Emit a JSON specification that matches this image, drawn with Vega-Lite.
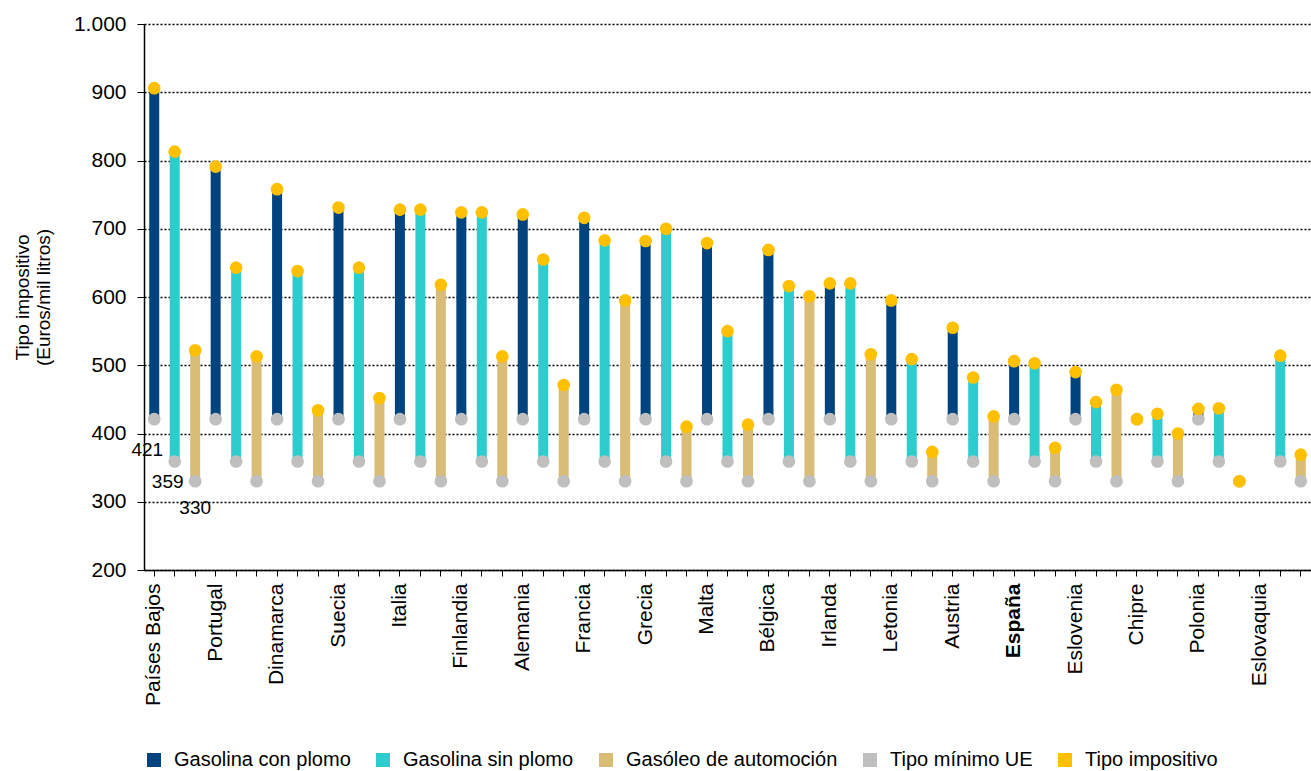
{
  "$schema": "https://vega.github.io/schema/vega-lite/v6.json",
  "width": 1311,
  "height": 771,
  "autosize": {"type": "fit", "contains": "padding"},
  "padding": {"left": 13, "top": 13, "right": 0, "bottom": 1},
  "background": "white",
  "config": {
    "font": "Liberation Sans",
    "view": {"stroke": null},
    "axis": {"labelColor": "#000", "tickColor": "#000", "domainColor": "#000", "titleColor": "#000", "labelFont": "Liberation Sans", "titleFont": "Liberation Sans"},
    "legend": {"labelFont": "Liberation Sans"}
  },
  "data": {
    "values": [
      {"id": "Países Bajos|L", "fuel": "Gasolina con plomo", "Tipo mínimo UE": 421, "Tipo impositivo": 906},
      {"id": "Países Bajos|U", "fuel": "Gasolina sin plomo", "Tipo mínimo UE": 359, "Tipo impositivo": 813},
      {"id": "Países Bajos|D", "fuel": "Gasóleo de automoción", "Tipo mínimo UE": 330, "Tipo impositivo": 522},
      {"id": "Portugal|L", "fuel": "Gasolina con plomo", "Tipo mínimo UE": 421, "Tipo impositivo": 791},
      {"id": "Portugal|U", "fuel": "Gasolina sin plomo", "Tipo mínimo UE": 359, "Tipo impositivo": 643},
      {"id": "Portugal|D", "fuel": "Gasóleo de automoción", "Tipo mínimo UE": 330, "Tipo impositivo": 513},
      {"id": "Dinamarca|L", "fuel": "Gasolina con plomo", "Tipo mínimo UE": 421, "Tipo impositivo": 758},
      {"id": "Dinamarca|U", "fuel": "Gasolina sin plomo", "Tipo mínimo UE": 359, "Tipo impositivo": 638},
      {"id": "Dinamarca|D", "fuel": "Gasóleo de automoción", "Tipo mínimo UE": 330, "Tipo impositivo": 434},
      {"id": "Suecia|L", "fuel": "Gasolina con plomo", "Tipo mínimo UE": 421, "Tipo impositivo": 731},
      {"id": "Suecia|U", "fuel": "Gasolina sin plomo", "Tipo mínimo UE": 359, "Tipo impositivo": 643},
      {"id": "Suecia|D", "fuel": "Gasóleo de automoción", "Tipo mínimo UE": 330, "Tipo impositivo": 452},
      {"id": "Italia|L", "fuel": "Gasolina con plomo", "Tipo mínimo UE": 421, "Tipo impositivo": 728},
      {"id": "Italia|U", "fuel": "Gasolina sin plomo", "Tipo mínimo UE": 359, "Tipo impositivo": 728},
      {"id": "Italia|D", "fuel": "Gasóleo de automoción", "Tipo mínimo UE": 330, "Tipo impositivo": 618},
      {"id": "Finlandia|L", "fuel": "Gasolina con plomo", "Tipo mínimo UE": 421, "Tipo impositivo": 724},
      {"id": "Finlandia|U", "fuel": "Gasolina sin plomo", "Tipo mínimo UE": 359, "Tipo impositivo": 724},
      {"id": "Finlandia|D", "fuel": "Gasóleo de automoción", "Tipo mínimo UE": 330, "Tipo impositivo": 513},
      {"id": "Alemania|L", "fuel": "Gasolina con plomo", "Tipo mínimo UE": 421, "Tipo impositivo": 721},
      {"id": "Alemania|U", "fuel": "Gasolina sin plomo", "Tipo mínimo UE": 359, "Tipo impositivo": 655},
      {"id": "Alemania|D", "fuel": "Gasóleo de automoción", "Tipo mínimo UE": 330, "Tipo impositivo": 471},
      {"id": "Francia|L", "fuel": "Gasolina con plomo", "Tipo mínimo UE": 421, "Tipo impositivo": 716},
      {"id": "Francia|U", "fuel": "Gasolina sin plomo", "Tipo mínimo UE": 359, "Tipo impositivo": 683},
      {"id": "Francia|D", "fuel": "Gasóleo de automoción", "Tipo mínimo UE": 330, "Tipo impositivo": 595},
      {"id": "Grecia|L", "fuel": "Gasolina con plomo", "Tipo mínimo UE": 421, "Tipo impositivo": 682},
      {"id": "Grecia|U", "fuel": "Gasolina sin plomo", "Tipo mínimo UE": 359, "Tipo impositivo": 700},
      {"id": "Grecia|D", "fuel": "Gasóleo de automoción", "Tipo mínimo UE": 330, "Tipo impositivo": 410},
      {"id": "Malta|L", "fuel": "Gasolina con plomo", "Tipo mínimo UE": 421, "Tipo impositivo": 679},
      {"id": "Malta|U", "fuel": "Gasolina sin plomo", "Tipo mínimo UE": 359, "Tipo impositivo": 550},
      {"id": "Malta|D", "fuel": "Gasóleo de automoción", "Tipo mínimo UE": 330, "Tipo impositivo": 413},
      {"id": "Bélgica|L", "fuel": "Gasolina con plomo", "Tipo mínimo UE": 421, "Tipo impositivo": 669},
      {"id": "Bélgica|U", "fuel": "Gasolina sin plomo", "Tipo mínimo UE": 359, "Tipo impositivo": 616},
      {"id": "Bélgica|D", "fuel": "Gasóleo de automoción", "Tipo mínimo UE": 330, "Tipo impositivo": 601},
      {"id": "Irlanda|L", "fuel": "Gasolina con plomo", "Tipo mínimo UE": 421, "Tipo impositivo": 620},
      {"id": "Irlanda|U", "fuel": "Gasolina sin plomo", "Tipo mínimo UE": 359, "Tipo impositivo": 620},
      {"id": "Irlanda|D", "fuel": "Gasóleo de automoción", "Tipo mínimo UE": 330, "Tipo impositivo": 516},
      {"id": "Letonia|L", "fuel": "Gasolina con plomo", "Tipo mínimo UE": 421, "Tipo impositivo": 595},
      {"id": "Letonia|U", "fuel": "Gasolina sin plomo", "Tipo mínimo UE": 359, "Tipo impositivo": 509},
      {"id": "Letonia|D", "fuel": "Gasóleo de automoción", "Tipo mínimo UE": 330, "Tipo impositivo": 373},
      {"id": "Austria|L", "fuel": "Gasolina con plomo", "Tipo mínimo UE": 421, "Tipo impositivo": 555},
      {"id": "Austria|U", "fuel": "Gasolina sin plomo", "Tipo mínimo UE": 359, "Tipo impositivo": 482},
      {"id": "Austria|D", "fuel": "Gasóleo de automoción", "Tipo mínimo UE": 330, "Tipo impositivo": 425},
      {"id": "España|L", "fuel": "Gasolina con plomo", "Tipo mínimo UE": 421, "Tipo impositivo": 506},
      {"id": "España|U", "fuel": "Gasolina sin plomo", "Tipo mínimo UE": 359, "Tipo impositivo": 503},
      {"id": "España|D", "fuel": "Gasóleo de automoción", "Tipo mínimo UE": 330, "Tipo impositivo": 379},
      {"id": "Eslovenia|L", "fuel": "Gasolina con plomo", "Tipo mínimo UE": 421, "Tipo impositivo": 490},
      {"id": "Eslovenia|U", "fuel": "Gasolina sin plomo", "Tipo mínimo UE": 359, "Tipo impositivo": 446},
      {"id": "Eslovenia|D", "fuel": "Gasóleo de automoción", "Tipo mínimo UE": 330, "Tipo impositivo": 464},
      {"id": "Chipre|L", "fuel": "Gasolina con plomo", "Tipo mínimo UE": 421, "Tipo impositivo": 421},
      {"id": "Chipre|U", "fuel": "Gasolina sin plomo", "Tipo mínimo UE": 359, "Tipo impositivo": 429},
      {"id": "Chipre|D", "fuel": "Gasóleo de automoción", "Tipo mínimo UE": 330, "Tipo impositivo": 400},
      {"id": "Polonia|L", "fuel": "Gasolina con plomo", "Tipo mínimo UE": 421, "Tipo impositivo": 436},
      {"id": "Polonia|U", "fuel": "Gasolina sin plomo", "Tipo mínimo UE": 359, "Tipo impositivo": 437},
      {"id": "Polonia|D", "fuel": "Gasóleo de automoción", "Tipo mínimo UE": 330, "Tipo impositivo": 330},
      {"id": "Eslovaquia|U", "fuel": "Gasolina sin plomo", "Tipo mínimo UE": 359, "Tipo impositivo": 514},
      {"id": "Eslovaquia|D", "fuel": "Gasóleo de automoción", "Tipo mínimo UE": 330, "Tipo impositivo": 369}
    ]
  },
  "encoding": {
    "x": {
      "field": "id",
      "type": "nominal",
      "scale": {
        "domain": ["Países Bajos|L","Países Bajos|U","Países Bajos|D","Portugal|L","Portugal|U","Portugal|D","Dinamarca|L","Dinamarca|U","Dinamarca|D","Suecia|L","Suecia|U","Suecia|D","Italia|L","Italia|U","Italia|D","Finlandia|L","Finlandia|U","Finlandia|D","Alemania|L","Alemania|U","Alemania|D","Francia|L","Francia|U","Francia|D","Grecia|L","Grecia|U","Grecia|D","Malta|L","Malta|U","Malta|D","Bélgica|L","Bélgica|U","Bélgica|D","Irlanda|L","Irlanda|U","Irlanda|D","Letonia|L","Letonia|U","Letonia|D","Austria|L","Austria|U","Austria|D","España|L","España|U","España|D","Eslovenia|L","Eslovenia|U","Eslovenia|D","Chipre|L","Chipre|U","Chipre|D","Polonia|L","Polonia|U","Polonia|D","Eslovaquia|L","Eslovaquia|U","Eslovaquia|D"],
        "paddingInner": 0,
        "paddingOuter": 0
      },
      "axis": {
        "title": null,
        "labelAngle": 270,
        "labelAlign": "right",
        "labelBaseline": "middle",
        "labelPadding": 7,
        "tickSize": 6,
        "labelFontSize": 21,
        "labelOverlap": false,
        "labelExpr": "indexof(datum.value, '|L') > 0 ? split(datum.value, '|')[0] : ''",
        "labelFontWeight": {"condition": {"test": "datum.value == 'España|L'", "value": "bold"}, "value": "normal"},
        "domainWidth": 1.5,
        "grid": false
      }
    }
  },
  "layer": [
    {
      "mark": {"type": "bar", "width": 10},
      "encoding": {
        "y": {
          "field": "Tipo mínimo UE",
          "type": "quantitative",
          "scale": {"domain": [200, 1000], "nice": false, "zero": false},
          "axis": {
            "title": ["Tipo impositivo", "(Euros/mil litros)"],
            "values": [200, 300, 400, 500, 600, 700, 800, 900, 1000],
            "labelExpr": "datum.value == 1000 ? '1.000' : datum.label",
            "labelFontSize": 21,
            "labelPadding": 11,
            "tickSize": 7,
            "domainWidth": 1.5,
            "grid": true,
            "gridColor": "#000",
            "gridDash": [2, 2],
            "gridWidth": 1.5,
            "titleFontSize": 19,
            "titleFontWeight": "normal",
            "titlePadding": 20
          }
        },
        "y2": {"field": "Tipo impositivo"},
        "color": {
          "field": "fuel",
          "type": "nominal",
          "scale": {
            "domain": ["Gasolina con plomo", "Gasolina sin plomo", "Gasóleo de automoción", "Tipo mínimo UE", "Tipo impositivo"],
            "range": ["#00447F", "#2ECDCD", "#D9BD77", "#BFBFBF", "#FFC000"]
          },
          "legend": {
            "title": null,
            "orient": "bottom",
            "direction": "horizontal",
            "offset": 44,
            "labelFontSize": 20,
            "labelColor": "#000",
            "labelLimit": 400,
            "symbolStrokeWidth": 0,
            "symbolType": "square",
            "symbolSize": 196,
            "columnPadding": 22,
            "labelOffset": 10
          }
        }
      }
    },
    {
      "transform": [{"fold": ["Tipo mínimo UE", "Tipo impositivo"], "as": ["serie", "tipo"]}],
      "mark": {"type": "circle", "size": 160, "opacity": 1},
      "encoding": {
        "y": {"field": "tipo", "type": "quantitative"},
        "color": {"field": "serie", "type": "nominal", "legend": null}
      }
    },
    {
      "transform": [{"filter": "datum.id == 'Países Bajos|L'"}],
      "mark": {"type": "text", "dx": -7, "dy": 31, "fontSize": 19, "color": "#000"},
      "encoding": {
        "y": {"field": "Tipo mínimo UE", "type": "quantitative"},
        "text": {"field": "Tipo mínimo UE", "type": "quantitative"}
      }
    },
    {
      "transform": [{"filter": "datum.id == 'Países Bajos|U'"}],
      "mark": {"type": "text", "dx": -7, "dy": 21, "fontSize": 19, "color": "#000"},
      "encoding": {
        "y": {"field": "Tipo mínimo UE", "type": "quantitative"},
        "text": {"field": "Tipo mínimo UE", "type": "quantitative"}
      }
    },
    {
      "transform": [{"filter": "datum.id == 'Países Bajos|D'"}],
      "mark": {"type": "text", "dx": 0, "dy": 27, "fontSize": 19, "color": "#000"},
      "encoding": {
        "y": {"field": "Tipo mínimo UE", "type": "quantitative"},
        "text": {"field": "Tipo mínimo UE", "type": "quantitative"}
      }
    }
  ]
}
